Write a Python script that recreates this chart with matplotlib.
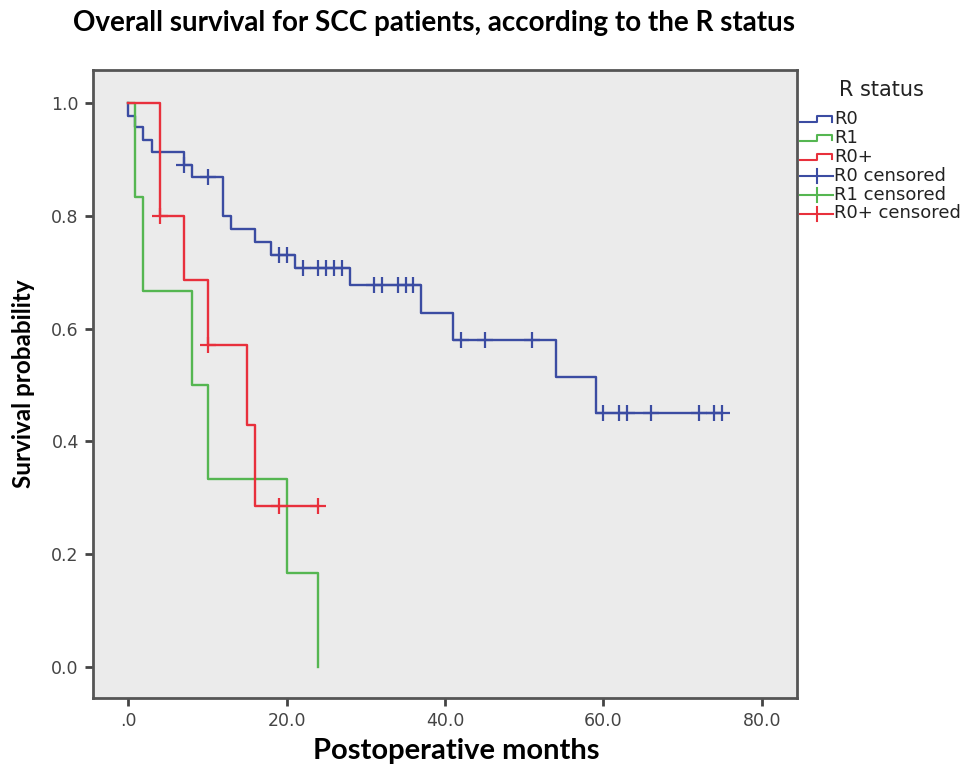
import numpy as np
import matplotlib
matplotlib.use('Agg')
import matplotlib.pyplot as plt
from matplotlib.lines import Line2D

# Kaplan-Meier steps (months, survival after the step)
r0_times = [0, 0.9, 1.9, 3, 7, 8, 12, 13, 16, 18, 21, 28, 37, 41, 54, 59]
r0_surv = [0.978, 0.957, 0.935, 0.913, 0.891, 0.869, 0.800, 0.777, 0.754, 0.731,
           0.707, 0.678, 0.628, 0.580, 0.515, 0.451]
r0_end = 75
r0_censored = [7, 10, 19, 20, 22, 24, 25, 26, 27, 31, 32, 34, 35, 36, 42, 45, 51,
               60, 62, 63, 66, 72, 74, 75]

r1_times = [0.9, 1.9, 8, 10, 20, 24]
r1_surv = [0.833, 0.667, 0.500, 0.333, 0.167, 0.0]
r1_end = 24
r1_censored = []

r0p_times = [4, 7, 10, 15, 16]
r0p_surv = [0.800, 0.686, 0.571, 0.429, 0.286]
r0p_end = 24
r0p_censored = [4, 10, 19, 24]

groups = ['R0', 'R1', 'R0+']
colors = ['#3b4ca2', '#55b651', '#e8303c']

x_ticks = [0, 20, 40, 60, 80]
x_labels = ['.0', '20.0', '40.0', '60.0', '80.0']
y_ticks = [0.0, 0.2, 0.4, 0.6, 0.8, 1.0]
y_labels = ['0.0', '0.2', '0.4', '0.6', '0.8', '1.0']

W, H = 964, 766


def surv_at(t, times, surv):
    i = np.searchsorted(times, t, side='right')
    return 1.0 if i == 0 else surv[i - 1]


def step_xy(times, surv, end):
    xs = [0] + list(times) + [end]
    ys = [1.0] + list(surv) + [surv[-1]]
    return xs, ys


plt.rcParams['font.family'] = ['DejaVu Sans']
fig = plt.figure(figsize=(W / 100, H / 100), dpi=100)
ax = fig.add_axes([92.7 / W, 1 - 698 / H, (796.7 - 92.7) / W, (698 - 70) / H])
ax.set_facecolor('#ebebeb')

data = [(r0_times, r0_surv, r0_end, r0_censored),
        (r1_times, r1_surv, r1_end, r1_censored),
        (r0p_times, r0p_surv, r0p_end, r0p_censored)]

for (times, surv, end, cens), c in zip(data, colors):
    xs, ys = step_xy(times, surv, end)
    ax.step(xs, ys, where='post', color=c, lw=1.7, zorder=3)
    if cens:
        cy = [surv_at(t, times, surv) for t in cens]
        ax.plot(cens, cy, ls='none', marker='+', ms=11, mew=1.6, color=c, zorder=4)

ax.set_xlim(-4.5, 84.4)
ax.set_ylim(-0.0556, 1.059)
ax.set_xticks(x_ticks)
ax.set_xticklabels(x_labels)
ax.set_yticks(y_ticks)
ax.set_yticklabels(y_labels)
ax.tick_params(direction='out', length=6, width=2, color='#444444',
               labelcolor='#444444', labelsize=12.5, pad=4)
for s in ax.spines.values():
    s.set_color('#555555')
    s.set_linewidth(2)

# x label sits a little right of the axes centre in the original
fig.text(456 / W, 1 - 751 / H, 'Postoperative months', ha='center', va='center',
         fontsize=21, fontweight='bold', family='Lato')
ax.set_ylabel('Survival probability', fontsize=17.5, fontweight='bold',
              family='Lato', labelpad=12)
fig.text(434 / W, 1 - 23 / H, 'Overall survival for SCC patients, according to the R status',
         ha='center', va='center', fontsize=20, fontweight='bold', family='Lato')

# legend drawn by hand to get the SPSS step-shaped handles
fig.text(881 / W, 1 - 90 / H, 'R status', ha='center', va='center', fontsize=15,
         color='#222222')
row_y = 119.5
row_gap = 18.8
labels = groups + [g + ' censored' for g in groups]
for k, lab in enumerate(labels):
    yc = row_y + k * row_gap
    c = colors[k % 3]
    if k < 3:
        px = [800, 817, 817, 832, 832]
        py = [yc + 2.5, yc + 2.5, yc - 3.5, yc - 3.5, yc + 2]
    else:
        px = [800, 833]
        py = [yc, yc]
        fig.add_artist(Line2D([816.5 / W, 816.5 / W], [1 - (yc - 7) / H, 1 - (yc + 7) / H],
                              color=c, lw=1.5, transform=fig.transFigure))
    fig.add_artist(Line2D([p / W for p in px], [1 - p / H for p in py],
                          color=c, lw=1.5, transform=fig.transFigure))
    fig.text(834 / W, 1 - yc / H, lab, ha='left', va='center', fontsize=13,
             color='#222222')

fig.savefig('out.png', dpi=100, facecolor='white')
